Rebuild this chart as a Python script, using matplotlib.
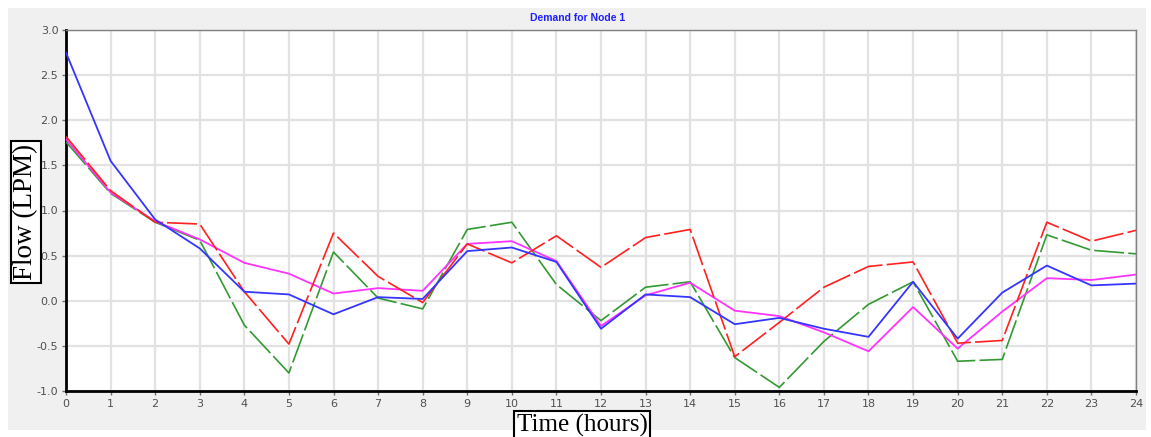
import numpy as np
import matplotlib
matplotlib.use("Agg")
import matplotlib.pyplot as plt
from matplotlib.patches import Rectangle

hours = list(range(25))

red = [1.82, 1.22, 0.87, 0.85, 0.10, -0.48, 0.75, 0.27, -0.02, 0.63, 0.42, 0.72, 0.37,
       0.70, 0.79, -0.62, -0.24, 0.15, 0.38, 0.43, -0.47, -0.44, 0.87, 0.66, 0.78]
green = [1.76, 1.19, 0.87, 0.67, -0.27, -0.80, 0.54, 0.03, -0.09, 0.79, 0.87, 0.18, -0.22,
         0.15, 0.21, -0.63, -0.96, -0.45, -0.04, 0.21, -0.67, -0.65, 0.73, 0.56, 0.52]
blue = [2.75, 1.55, 0.90, 0.58, 0.10, 0.07, -0.15, 0.04, 0.02, 0.55, 0.59, 0.43, -0.31,
        0.07, 0.04, -0.26, -0.19, -0.31, -0.40, 0.21, -0.42, 0.09, 0.39, 0.17, 0.19]
magenta = [1.79, 1.20, 0.88, 0.68, 0.42, 0.30, 0.08, 0.14, 0.11, 0.63, 0.66, 0.44, -0.28,
           0.06, 0.20, -0.11, -0.17, -0.35, -0.56, -0.07, -0.53, -0.12, 0.25, 0.23, 0.29]

y_ticks = [-1.0, -0.5, 0.0, 0.5, 1.0, 1.5, 2.0, 2.5, 3.0]

W, H = 1151, 437
fig = plt.figure(figsize=(W / 100, H / 100), dpi=100)
fig.patch.set_facecolor("white")

# gray panel behind the chart
fig.patches.append(Rectangle((8 / W, 1 - 430 / H), (1146 - 8) / W, (430 - 8) / H,
                             transform=fig.transFigure, facecolor="#f0f0f0",
                             edgecolor="none", zorder=-5))

ax = fig.add_axes([66 / W, 1 - 391 / H, (1136 - 66) / W, (391 - 30) / H])
ax.set_zorder(1)
ax.set_facecolor("white")

ax.plot(hours, green, color="#339933", lw=1.2, dashes=(18, 2.5), zorder=3)
ax.plot(hours, magenta, color="#ff33ff", lw=1.3, zorder=4)
ax.plot(hours, red, color="#ff2020", lw=1.2, dashes=(18, 2.5), zorder=5)
ax.plot(hours, blue, color="#3535ff", lw=1.3, zorder=6)

ax.set_xlim(0, 24)
ax.set_ylim(-1.0, 3.0)
ax.set_xticks(hours)
ax.set_yticks(y_ticks)
ax.set_yticklabels(["%.1f" % v for v in y_ticks])
ax.grid(True, color="#e2e2e2", lw=1.6, zorder=0)
ax.set_axisbelow(True)

for s in ["left", "bottom"]:
    ax.spines[s].set_color("black")
    ax.spines[s].set_linewidth(2.0)
for s in ["top", "right"]:
    ax.spines[s].set_color("#808080")
    ax.spines[s].set_linewidth(1.0)

ax.tick_params(axis="both", labelsize=8, labelcolor="#505050", length=3,
               width=1, color="#707070", pad=2.5)
for lbl in ax.get_xticklabels() + ax.get_yticklabels():
    lbl.set_fontfamily("DejaVu Sans")

fig.text(578 / W, 1 - 18 / H, "Demand for Node 1", color="#2020ff", fontsize=7.5,
         fontweight="bold", family="Liberation Sans", ha="center", va="center")

box = dict(boxstyle="square,pad=0.1", facecolor="white", edgecolor="black", lw=1.5)
fig.text(26 / W, 1 - 212 / H, "Flow (LPM)", rotation=90, fontsize=19.5,
         family="Liberation Serif", ha="center", va="center", bbox=box, zorder=5)
fig.text(582 / W, 1 - 425.5 / H, "Time (hours)", fontsize=18,
         family="Liberation Serif", ha="center", va="center", bbox=box, zorder=5)

fig.savefig("out.png", dpi=100)
